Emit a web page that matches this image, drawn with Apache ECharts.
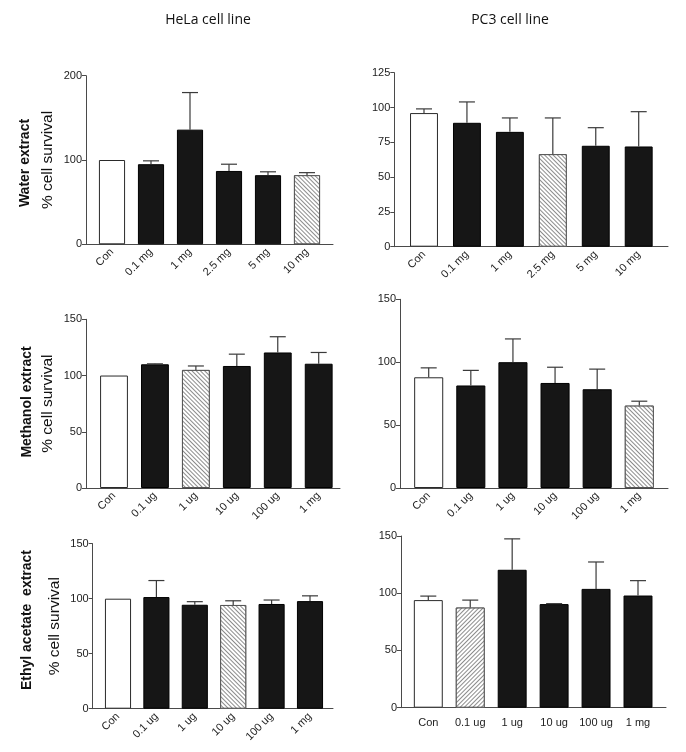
<!DOCTYPE html>
<html>
<head>
<meta charset="utf-8">
<script src="https://cdn.jsdelivr.net/npm/echarts@6/dist/echarts.min.js"></script>
<style>
html,body{margin:0;padding:0;background:#fff;}
#chart{width:686px;height:752px;}
</style>
</head>
<body>
<div id="chart"></div>
<script>
// ---- data ----
const waterCats = ['Con', '0.1 mg', '1 mg', '2.5 mg', '5 mg', '10 mg'];
const doseCats = ['Con', '0.1 ug', '1 ug', '10 ug', '100 ug', '1 mg'];

const helaWaterMean = [100, 95, 136, 87, 82, 82];
const helaWaterErr = [0, 4, 44, 8, 4, 3];
const helaWaterTicks = [0, 100, 200];

const pc3WaterMean = [96, 89, 82.5, 66.5, 72.5, 72];
const pc3WaterErr = [3, 15, 10, 26, 13, 25];
const pc3WaterTicks = [0, 25, 50, 75, 100, 125];

const helaMethMean = [100, 110, 105, 108.5, 120.5, 110.5];
const helaMethErr = [0, 0.4, 3.5, 10.5, 14, 10];
const helaMethTicks = [0, 50, 100, 150];

const pc3MethMean = [88, 81.5, 100, 83.5, 78.5, 65.5];
const pc3MethErr = [7.5, 12, 18.5, 12.5, 16, 3.5];
const pc3MethTicks = [0, 50, 100, 150];

const helaEthMean = [100, 101.5, 94.5, 94.3, 95.2, 97.8];
const helaEthErr = [0, 15, 2.8, 3.8, 3.6, 4.8];
const helaEthTicks = [0, 50, 100, 150];

const pc3EthMean = [94, 87.5, 120.5, 90.5, 103.8, 98];
const pc3EthErr = [3.5, 6.5, 27, 0.4, 23.5, 13];
const pc3EthTicks = [0, 50, 100, 150];

const columnTitles = ['HeLa cell line', 'PC3 cell line'];
const rowTitles = ['Water extract', 'Methanol extract', 'Ethyl acetate  extract'];
const yAxisTitle = '% cell survival';

// ---- layout (positions & styles) ----
const panels = [
  {cats: waterCats, mean: helaWaterMean, err: helaWaterErr, ticks: helaWaterTicks,
   frame: [86, 75.7, 333, 244.3], centers: [112, 307], bar: 26, hatch: 5, dir: 1, rotate: 45, yName: true},
  {cats: waterCats, mean: pc3WaterMean, err: pc3WaterErr, ticks: pc3WaterTicks,
   frame: [394.3, 72.7, 668, 246.7], centers: [424, 638.7], bar: 28, hatch: 3, dir: 1, rotate: 45, yName: false},
  {cats: doseCats, mean: helaMethMean, err: helaMethErr, ticks: helaMethTicks,
   frame: [86, 319.3, 340, 488], centers: [114, 318.7], bar: 28, hatch: 2, dir: 1, rotate: 45, yName: true},
  {cats: doseCats, mean: pc3MethMean, err: pc3MethErr, ticks: pc3MethTicks,
   frame: [400, 299.3, 668, 488], centers: [428.7, 639.3], bar: 29, hatch: 5, dir: 1, rotate: 45, yName: false},
  {cats: doseCats, mean: helaEthMean, err: helaEthErr, ticks: helaEthTicks,
   frame: [92.7, 543.7, 333, 708.7], centers: [118, 310], bar: 26, hatch: 3, dir: 1, rotate: 45, yName: true},
  {cats: doseCats, mean: pc3EthMean, err: pc3EthErr, ticks: pc3EthTicks,
   frame: [401, 536, 666, 707.7], centers: [428.3, 638], bar: 29, hatch: 1, dir: -1, rotate: 0, yName: false}
];

const FONT = '"Liberation Sans", Arial, sans-serif';
const AXIS_COLOR = '#4a4a4a';

const grid = [], xAxis = [], yAxis = [], series = [];

panels.forEach((p, i) => {
  const [fl, ft, fr, fb] = p.frame;
  const n = p.cats.length;
  const band = (p.centers[1] - p.centers[0]) / (n - 1);
  const dl = p.centers[0] - band / 2;
  const ymin = p.ticks[0], ymax = p.ticks[p.ticks.length - 1], yint = p.ticks[1] - p.ticks[0];

  // frame grid (axis lines, y ticks/labels)
  const gF = grid.length;
  grid.push({left: fl, top: ft, width: fr - fl, height: fb - ft, containLabel: false});
  xAxis.push({gridIndex: gF, type: 'value', min: 0, max: 1,
    axisLine: {show: true, onZero: false, lineStyle: {color: AXIS_COLOR, width: 1}},
    axisTick: {show: false}, axisLabel: {show: false}, splitLine: {show: false}});
  yAxis.push({gridIndex: gF, type: 'value', min: ymin, max: ymax, interval: yint,
    axisLine: {show: true, lineStyle: {color: AXIS_COLOR, width: 1}},
    axisTick: {show: true, length: 4, lineStyle: {color: AXIS_COLOR}},
    axisLabel: {fontSize: 11, color: '#222', fontFamily: FONT, margin: 4},
    splitLine: {show: false},
    name: p.yName ? yAxisTitle : '', nameLocation: 'middle', nameGap: 30,
    nameTextStyle: {fontSize: 15.5, color: '#111', fontFamily: FONT}});

  // data grid
  const gD = grid.length;
  grid.push({left: dl, top: ft, width: band * n, height: fb - ft, containLabel: false});
  xAxis.push({gridIndex: gD, type: 'category', data: p.cats,
    axisLine: {show: false}, axisTick: {show: false},
    axisLabel: {rotate: p.rotate, fontSize: 11, color: '#222', fontFamily: FONT,
      margin: p.rotate ? 6 : 10, interval: 0}});
  yAxis.push({gridIndex: gD, type: 'value', min: ymin, max: ymax, interval: yint, show: false});

  const gap = Math.round((1 - p.bar / band) * 100) + '%';
  const barData = p.mean.map((v, k) => {
    if (k === 0) {
      return {value: v, itemStyle: {color: '#ffffff', borderColor: '#2a2a2a', borderWidth: 1}};
    }
    if (k === p.hatch) {
      return {value: v, itemStyle: {color: '#ffffff', borderColor: '#555', borderWidth: 1,
        decal: {symbol: 'rect', symbolSize: 1, dashArrayX: [1, 0], dashArrayY: [0.9, 1.3],
          rotation: p.dir * Math.PI / 4, color: '#8c8c8c', backgroundColor: '#ffffff'}}};
    }
    return {value: v, itemStyle: {color: '#161616', borderColor: '#000', borderWidth: 1}};
  });
  series.push({type: 'bar', xAxisIndex: gD, yAxisIndex: gD, data: barData,
    barCategoryGap: gap, silent: true, animation: false, z: 2});

  const errData = p.mean.map((v, k) => [k, v, p.err[k]]);
  series.push({type: 'custom', xAxisIndex: gD, yAxisIndex: gD, data: errData, z: 3,
    silent: true, animation: false,
    renderItem: function (params, api) {
      const e = api.value(2);
      if (!(e > 0)) return null;
      const base = api.coord([api.value(0), api.value(1)]);
      const top = api.coord([api.value(0), api.value(1) + e]);
      const half = 8;
      const style = {stroke: '#3a3a3a', lineWidth: 1.2};
      return {type: 'group', children: [
        {type: 'line', shape: {x1: base[0], y1: base[1], x2: top[0], y2: top[1]}, style: style},
        {type: 'line', shape: {x1: top[0] - half, y1: top[1], x2: top[0] + half, y2: top[1]}, style: style}
      ]};
    }});
});

const graphic = [
  {type: 'text', x: 208, y: 20, style: {text: columnTitles[0], fontSize: 14, fontFamily: '"Open Sans", sans-serif',
    fill: '#111', textAlign: 'center', textVerticalAlign: 'middle'}},
  {type: 'text', x: 510, y: 20, style: {text: columnTitles[1], fontSize: 14, fontFamily: '"Open Sans", sans-serif',
    fill: '#111', textAlign: 'center', textVerticalAlign: 'middle'}},
  {type: 'text', x: 25, y: 163, rotation: Math.PI / 2, style: {text: rowTitles[0], fontSize: 14, fontWeight: 'bold',
    fontFamily: FONT, fill: '#111', textAlign: 'center', textVerticalAlign: 'middle'}},
  {type: 'text', x: 27, y: 402, rotation: Math.PI / 2, style: {text: rowTitles[1], fontSize: 14, fontWeight: 'bold',
    fontFamily: FONT, fill: '#111', textAlign: 'center', textVerticalAlign: 'middle'}},
  {type: 'text', x: 27, y: 620, rotation: Math.PI / 2, style: {text: rowTitles[2], fontSize: 14, fontWeight: 'bold',
    fontFamily: FONT, fill: '#111', textAlign: 'center', textVerticalAlign: 'middle'}}
];

const chart = echarts.init(document.getElementById('chart'), null, {renderer: 'canvas'});
chart.setOption({backgroundColor: '#ffffff', animation: false, grid, xAxis, yAxis, series, graphic});
</script>
</body>
</html>
